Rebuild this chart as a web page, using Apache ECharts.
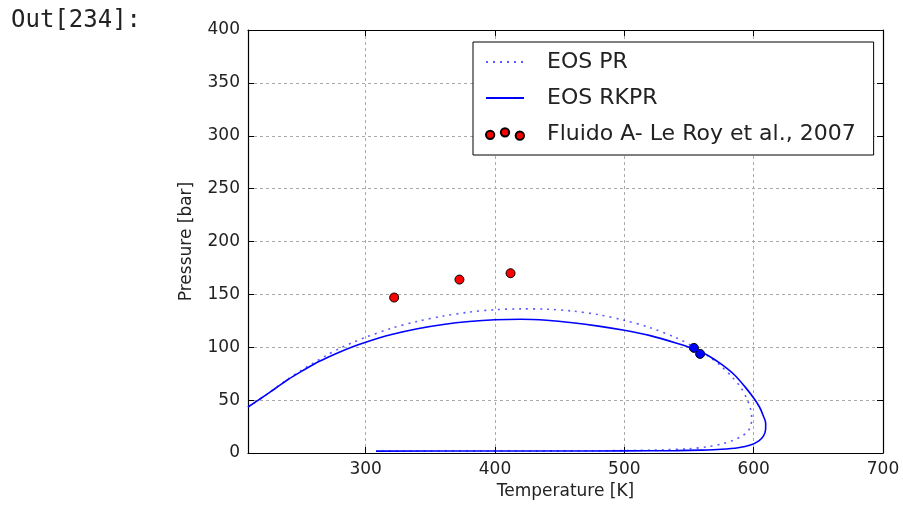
<!DOCTYPE html>
<html>
<head>
<meta charset="utf-8">
<script src="https://cdn.jsdelivr.net/npm/echarts@6/dist/echarts.min.js"></script>
<style>
  html, body { margin: 0; padding: 0; background: #fff; }
  #chart { width: 903px; height: 511px; }
</style>
</head>
<body>
<div id="chart"></div>
<script>
// EOS PR (dotted), temperature [K] / pressure [bar]
var prT = [209, 220, 230, 240, 250, 260, 270, 280, 290, 300, 320, 340, 360, 380, 400, 420, 440, 460, 480, 500,
           520, 540, 555, 565, 575, 584, 590, 594.5, 597.5, 598.5, 597.8, 595.5, 591, 584, 575, 565, 550, 530, 500, 450, 400, 308];
var prP = [43.5, 52.5, 61.2, 70, 78, 85.5, 92.5, 99, 104.5, 109.5, 118, 124.5, 129.5, 133.2, 135.5, 136.3, 136, 134.2, 130.8, 125.5,
           118.5, 109, 99.5, 91.5, 82, 71, 62, 52, 42, 33, 26, 20.5, 16, 12, 8.5, 6, 4, 3, 2.3, 2, 1.9, 1.8];

// EOS RKPR (solid)
var rkprT = [209, 220, 230, 240, 250, 260, 270, 280, 290, 300, 320, 340, 360, 380, 400, 420, 440, 460, 480, 500,
             520, 540, 555, 565, 575, 585, 593, 600, 604.5, 607.5, 609.3, 609.2, 607.5, 604, 597.5, 588, 575, 560, 540, 500, 450, 400, 308];
var rkprP = [43.5, 52.5, 61, 69.5, 77, 84, 90, 95.5, 100.5, 104.8, 112, 117.5, 121.5, 124.3, 126, 126.5, 125.5, 123.2, 120, 116,
             111, 104, 98, 92, 84, 74, 63, 52, 43.5, 35, 28, 22, 16, 11.5, 7.5, 5, 3.5, 2.7, 2.2, 2, 1.9, 1.9, 1.8];

// Fluido A - Le Roy et al., 2007
var expT = [322, 372.5, 412];
var expP = [147, 164, 170];

// critical points (PR, RKPR)
var critT = [553.8, 558.6];
var critP = [99.4, 93.7];

var xTicks = [300, 400, 500, 600, 700];
var names = ['EOS PR', 'EOS RKPR', 'Fluido A- Le Roy et al., 2007'];

function zip(a, b) {
  return a.map(function (v, i) { return [v, b[i]]; });
}

var chart = echarts.init(document.getElementById('chart'));
var font = 'DejaVu Sans';
var dots = 'path://M0.5,8a4.2,4.2 0 1,0 8.4,0a4.2,4.2 0 1,0 -8.4,0Z' +
           'M15.5,5.5a4.2,4.2 0 1,0 8.4,0a4.2,4.2 0 1,0 -8.4,0Z' +
           'M30.5,8.8a4.2,4.2 0 1,0 8.4,0a4.2,4.2 0 1,0 -8.4,0Z';

var option = {
  animation: false,
  textStyle: { fontFamily: font },
  graphic: [{
    type: 'text', left: 11, top: 9,
    style: { text: 'Out[234]:', font: '24px "DejaVu Sans Mono"', fill: '#222' }
  }],
  grid: { left: 248, right: 20, top: 30, bottom: 58 },
  legend: {
    orient: 'vertical',
    left: 473, top: 42,
    padding: [9, 18, 10, 12],
    backgroundColor: '#fff',
    borderColor: '#000', borderWidth: 1, borderRadius: 0,
    itemWidth: 38, itemHeight: 14, itemGap: 14,
    textStyle: { fontFamily: font, fontSize: 22, color: '#222', lineHeight: 22, padding: [0, 0, 0, 18] },
    data: [
      { name: names[0], itemStyle: { opacity: 0 } },
      { name: names[1], itemStyle: { opacity: 0 } },
      { name: names[2], icon: dots }
    ]
  },
  xAxis: [{
    type: 'value', min: 209, max: 700,
    name: 'Temperature [K]', nameLocation: 'middle', nameGap: 30,
    nameTextStyle: { fontSize: 17, color: '#222', fontFamily: font },
    axisLine: { onZero: false, lineStyle: { color: '#000', width: 1.2 } },
    axisTick: { inside: true, length: 6, customValues: xTicks, lineStyle: { color: '#000' } },
    axisLabel: { customValues: xTicks, fontSize: 17, color: '#222', margin: 8, fontFamily: font },
    splitLine: { show: true, lineStyle: { color: '#aaa', type: [3, 3], width: 1 } }
  }, {
    type: 'value', min: 209, max: 700, position: 'top',
    axisLine: { onZero: false, lineStyle: { color: '#000', width: 1.2 } },
    axisTick: { inside: true, length: 6, customValues: xTicks, lineStyle: { color: '#000' } },
    axisLabel: { show: false },
    splitLine: { show: false }
  }],
  yAxis: [{
    type: 'value', min: 0, max: 400, interval: 50,
    name: 'Pressure [bar]', nameLocation: 'middle', nameGap: 53,
    nameTextStyle: { fontSize: 17, color: '#222', fontFamily: font },
    axisLine: { show: true, onZero: false, lineStyle: { color: '#000', width: 1.2 } },
    axisTick: { show: true, inside: true, length: 6, lineStyle: { color: '#000' } },
    axisLabel: { fontSize: 17, color: '#222', margin: 8, fontFamily: font },
    splitLine: { show: true, lineStyle: { color: '#aaa', type: [3, 3], width: 1 } }
  }, {
    type: 'value', min: 0, max: 400, interval: 50, position: 'right',
    axisLine: { show: true, onZero: false, lineStyle: { color: '#000', width: 1.2 } },
    axisTick: { show: true, inside: true, length: 6, lineStyle: { color: '#000' } },
    axisLabel: { show: false },
    splitLine: { show: false }
  }],
  series: [{
    name: names[0], type: 'line', data: zip(prT, prP),
    symbol: 'none', smooth: 0.3,
    lineStyle: { color: '#0000ff', width: 1.6, type: [2, 5], opacity: 0.65 },
    itemStyle: { color: '#0000ff' }
  }, {
    name: names[1], type: 'line', data: zip(rkprT, rkprP),
    symbol: 'none', smooth: 0.3,
    lineStyle: { color: '#0000ff', width: 1.6 },
    itemStyle: { color: '#0000ff' }
  }, {
    name: names[2], type: 'scatter', data: zip(expT, expP),
    symbolSize: 9,
    itemStyle: { color: '#ff0000', borderColor: '#000', borderWidth: 1, opacity: 1 }
  }, {
    name: 'crit', type: 'scatter', data: zip(critT, critP),
    symbolSize: 9,
    itemStyle: { color: '#0000ff', borderColor: '#000', borderWidth: 1, opacity: 1 }
  }]
};

chart.setOption(option);
window.addEventListener('resize', chart.resize);
</script>
</body>
</html>
